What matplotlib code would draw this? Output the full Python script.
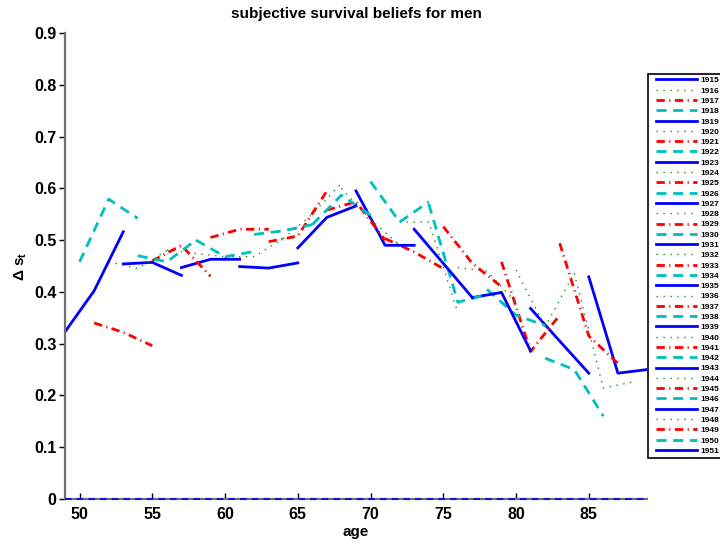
import matplotlib
matplotlib.use("Agg")
import matplotlib.pyplot as plt
from matplotlib.patches import Rectangle
from matplotlib.ticker import FixedLocator, FuncFormatter

plt.rcParams['font.family'] = ['Liberation Sans', 'DejaVu Sans']
plt.rcParams['font.weight'] = 'bold'
plt.rcParams['mathtext.fontset'] = 'custom'
plt.rcParams['mathtext.rm'] = 'Liberation Sans:bold'
plt.rcParams['mathtext.it'] = 'Liberation Sans:bold'
plt.rcParams['mathtext.bf'] = 'Liberation Sans:bold'

# birth cohorts (legend order)
cohorts = ["1915", "1916", "1917", "1918", "1919", "1920", "1921", "1922", "1923",
           "1924", "1925", "1926", "1927", "1928", "1929", "1930", "1931", "1932",
           "1933", "1934", "1935", "1936", "1937", "1938", "1939", "1940", "1941",
           "1942", "1943", "1944", "1945", "1946", "1947", "1948", "1949", "1950",
           "1951"]

# ages at which each cohort is observed
ages = [[85, 87, 89], [84, 86, 88], [83, 85, 87], [82, 84, 86], [81, 83, 85],
        [80, 82, 84], [79, 81, 83], [78, 80, 82], [77, 79, 81], [76, 78, 80],
        [75, 77, 79], [74, 76, 78], [73, 75, 77], [72, 74, 76], [71, 73, 75],
        [70, 72, 74], [69, 71, 73], [68, 70, 72], [67, 69, 71], [66, 68, 70],
        [65, 67, 69], [64, 66, 68], [63, 65, 67], [62, 64, 66], [61, 63, 65],
        [60, 62, 64], [59, 61, 63], [58, 60, 62], [57, 59, 61], [56, 58, 60],
        [55, 57, 59], [54, 56, 58], [53, 55, 57], [52, 54, 56], [51, 53, 55],
        [50, 52, 54], [49, 51, 53]]

# delta s_t
delta_s = [[0.429, 0.243, 0.250], [0.436, 0.214, 0.226], [0.494, 0.315, 0.262],
           [0.272, 0.250, 0.160], [0.368, 0.305, 0.243], [0.442, 0.333, 0.436],
           [0.458, 0.285, 0.355], [0.405, 0.355, 0.335], [0.389, 0.399, 0.286],
           [0.447, 0.440, 0.380], [0.526, 0.455, 0.410], [0.570, 0.380, 0.395],
           [0.521, 0.455, 0.389], [0.535, 0.535, 0.360], [0.503, 0.477, 0.445],
           [0.613, 0.535, 0.574], [0.595, 0.490, 0.490], [0.600, 0.540, 0.490],
           [0.558, 0.574, 0.500], [0.530, 0.587, 0.548], [0.485, 0.544, 0.566],
           [0.503, 0.550, 0.610], [0.497, 0.508, 0.595], [0.511, 0.518, 0.530],
           [0.449, 0.446, 0.456], [0.468, 0.468, 0.503], [0.505, 0.521, 0.521],
           [0.500, 0.468, 0.478], [0.447, 0.463, 0.463], [0.481, 0.474, 0.468],
           [0.460, 0.490, 0.430], [0.470, 0.458, 0.500], [0.454, 0.457, 0.432],
           [0.458, 0.445, 0.480], [0.340, 0.322, 0.296], [0.458, 0.579, 0.542],
           [0.323, 0.402, 0.516]]

# matlab style cycle: b-, g:, r-., c--
styles = [dict(color='#0000ff', lw=2.0, ls='-'),
          dict(color='#228b22', lw=1.0, ls=(0, (1, 4))),
          dict(color='#ff0000', lw=2.0, ls=(0, (3, 1.6, 0.4, 1.6))),
          dict(color='#00bfbf', lw=2.0, ls=(0, (3.6, 2.4)))]

fig = plt.figure(figsize=(7.2, 5.44), dpi=100)
ax = fig.add_axes([0.0903, 0.0827, 0.8083, 0.8566])

for i, lab in enumerate(cohorts):
    ax.plot(ages[i], delta_s[i], label=lab, **styles[i % 4])

# zero reference line
ax.plot([49, 89], [0, 0], color='#0000ff', lw=1.2, ls=(0, (4, 3)), zorder=3, clip_on=False)

ax.set_xlim(49, 89)
ax.set_ylim(0, 0.9)
ax.xaxis.set_major_locator(FixedLocator([50, 55, 60, 65, 70, 75, 80, 85]))
ax.yaxis.set_major_locator(FixedLocator([0, 0.1, 0.2, 0.3, 0.4, 0.5, 0.6, 0.7, 0.8, 0.9]))
ax.yaxis.set_major_formatter(FuncFormatter(lambda v, p: "0" if v == 0 else "%.1f" % v))
ax.tick_params(axis='both', labelsize=11.5, length=4, width=1, colors='black')
ax.tick_params(axis='x', direction='in', pad=6)
ax.tick_params(axis='y', direction='out', pad=2)
for s in ['top', 'right']:
    ax.spines[s].set_visible(False)
for s in ['left', 'bottom']:
    ax.spines[s].set_color('#707070')
    ax.spines[s].set_linewidth(1.6)

ax.set_title("subjective survival beliefs for men", fontsize=11, fontweight='bold', pad=11)
ax.set_xlabel("age", fontsize=11, fontweight='bold', labelpad=2)
ax.set_ylabel(r"$\Delta\ s_t$", fontsize=11, labelpad=4)

# legend box, running off the right edge as in the original
fig.patches.append(Rectangle((0.9, 1 - 458 / 544), 0.15, (458 - 74) / 544,
                             transform=fig.transFigure, facecolor='white',
                             edgecolor='black', lw=1.2, zorder=4))
leg = fig.legend(loc='upper left', bbox_to_anchor=(656 / 720, 1 - 76.5 / 544),
                 prop={'weight': 'bold', 'size': 6}, frameon=False,
                 handlelength=4.92, handletextpad=0.36, labelspacing=0.295,
                 borderpad=0, borderaxespad=0)
leg.set_zorder(5)

fig.savefig("out.png", dpi=100)
